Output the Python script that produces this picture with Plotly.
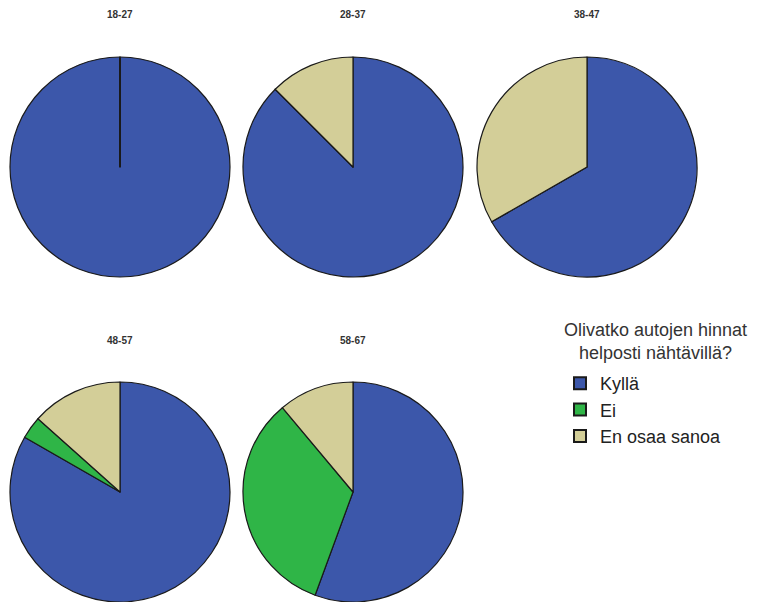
import plotly.graph_objects as go

groups = ["18-27", "28-37", "38-47", "48-57", "58-67"]
labels = ["Kyllä", "Ei", "En osaa sanoa"]
kylla = [100.0, 87.5, 66.7, 83.3, 55.6]
ei = [0.0, 0.0, 0.0, 3.3, 33.3]
eos = [0.0, 12.5, 33.3, 13.4, 11.1]
colors = ["#3C57AA", "#2FB547", "#D3CE98"]
legend_title = "Olivatko autojen hinnat<br>helposti nähtävillä?"

W, H = 757, 602
R = 110
centers = [(120, 167), (353, 167), (587, 167), (120, 492), (353, 492)]
title_y = [15, 15, 15, 340, 340]

fig = go.Figure()
for i, g in enumerate(groups):
    cx, cy = centers[i]
    fig.add_trace(go.Pie(
        labels=labels,
        values=[kylla[i], ei[i], eos[i]],
        sort=False,
        direction="clockwise",
        rotation=0,
        textinfo="none",
        hoverinfo="label+percent",
        marker=dict(colors=colors, line=dict(color="#1a1a1a", width=1.2)),
        domain=dict(x=[(cx - R) / W, (cx + R) / W], y=[(H - cy - R) / H, (H - cy + R) / H]),
        showlegend=True,
        name=g,
    ))
    fig.add_annotation(
        x=cx / W, y=1 - title_y[i] / H, xref="paper", yref="paper",
        text="<b>" + g + "</b>", showarrow=False,
        font=dict(family="Liberation Sans", size=10, color="#333"),
        xanchor="center", yanchor="middle",
    )
    # radial edge for full single-slice pie
    if sum(v > 0 for v in [kylla[i], ei[i], eos[i]]) == 1:
        fig.add_shape(type="line", xref="paper", yref="paper",
                      x0=cx / W, y0=1 - cy / H, x1=cx / W, y1=1 - (cy - R) / H,
                      line=dict(color="#1a1a1a", width=2))

# legend title, centered above the legend items
fig.add_annotation(
    x=655 / W, y=1 - 342 / H, xref="paper", yref="paper",
    text=legend_title, showarrow=False, align="center",
    font=dict(family="Liberation Sans", size=18, color="#333"),
    xanchor="center", yanchor="middle",
)

fig.update_layout(
    width=W, height=H,
    margin=dict(l=0, r=0, t=0, b=0),
    paper_bgcolor="white",
    plot_bgcolor="white",
    font=dict(family="Liberation Sans", color="#222"),
    legend=dict(
        font=dict(family="Liberation Sans", size=18, color="#222"),
        x=560 / W, y=1 - 365 / H, xanchor="left", yanchor="top",
        tracegroupgap=0, itemsizing="constant",
        bgcolor="rgba(0,0,0,0)",
    ),
)

fig.write_html("out.html")
